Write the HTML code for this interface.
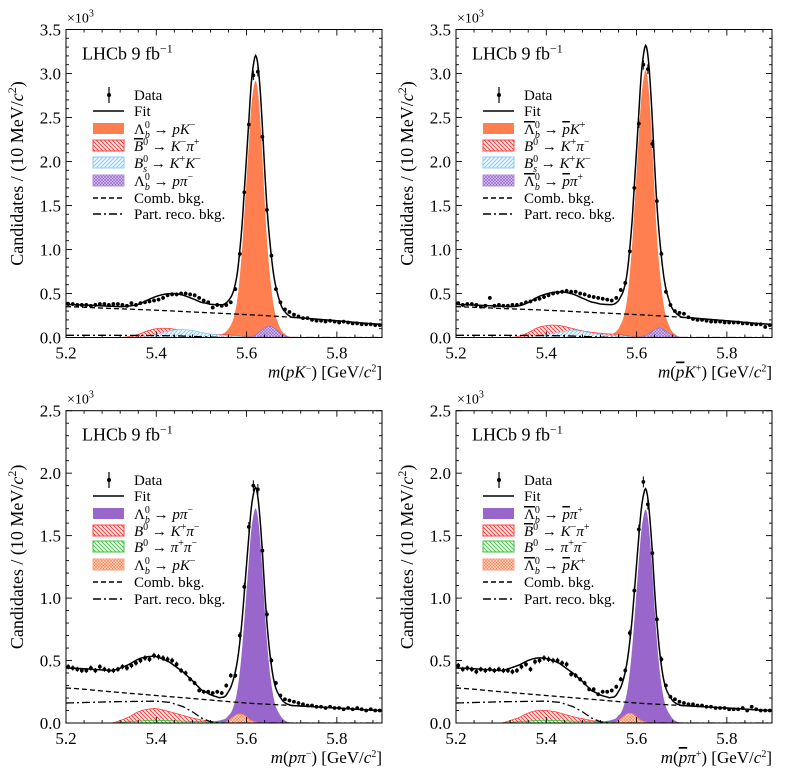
<!DOCTYPE html>
<html><head><meta charset="utf-8"><style>
html,body{margin:0;padding:0;background:#fff;}
svg{display:block;font-family:"Liberation Serif","DejaVu Serif",serif;}
</style></head><body>
<svg id="fig" width="794" height="780" viewBox="0 0 794 780" xmlns="http://www.w3.org/2000/svg">
<defs>
<pattern id="hRed" patternUnits="userSpaceOnUse" width="4" height="4"><rect width="4" height="4" fill="#ffe8e8"/><path d="M-1,-1 L5,5 M-1,3 L1,5 M3,-1 L5,1" stroke="#ff3030" stroke-width="0.9"/></pattern>
<pattern id="hBlue" patternUnits="userSpaceOnUse" width="4" height="4"><rect width="4" height="4" fill="#eef8ff"/><path d="M-1,5 L5,-1 M-1,1 L1,-1 M3,5 L5,3" stroke="#7cc8f0" stroke-width="0.9"/></pattern>
<pattern id="hGreen" patternUnits="userSpaceOnUse" width="4" height="4"><rect width="4" height="4" fill="#eaffea"/><path d="M-1,-1 L5,5 M-1,3 L1,5 M3,-1 L5,1" stroke="#40c040" stroke-width="0.9"/></pattern>
<pattern id="hPurple" patternUnits="userSpaceOnUse" width="3" height="3"><rect width="3" height="3" fill="#d8c4ee"/><path d="M0,0 L3,3 M0,3 L3,0" stroke="#9060c8" stroke-width="0.6"/></pattern>
<pattern id="hOrange" patternUnits="userSpaceOnUse" width="3" height="3"><rect width="3" height="3" fill="#ffd8c4"/><path d="M0,0 L3,3 M0,3 L3,0" stroke="#ff8050" stroke-width="0.6"/></pattern>
</defs>
</svg>
<script>
// ---------- Panel A: m(pK-) ----------
const dataA = [.38,.38,.37,.37,.37,.36,.37,.38,.38,.37, .38,.38,.37,.36,.39,.37,.39,.40,.41,.42, .43,.45,.48,.49,.49,.50,.50,.49,.48,.45, .42,.40,.34,.37,.36,.37,.40,.55,.95,1.65, 2.42,2.98,3.02,2.28,1.45,.93,.55,.40,.32,.29, .26,.24,.22,.22,.20,.19,.19,.18,.19,.18, .17,.18,.17,.16,.16,.15,.15,.15,.14,.14];
const combA = [.35,.33,.31,.285,.26,.23,.19,.15];
const partXA = [5.2,5.3,5.4,5.45,5.5,5.55];
const partYA = [.025,.025,.022,.018,.008,0];
const sigA = [0,.005,.01,.012,.015,.02,.025,.03, .035,.04,.05,.07, .10,.14,.20,.30,.45,.70,1.00,1.40,1.80,2.20,2.60,2.82,2.92, 2.80,2.50,2.06,1.56,1.12,.80,.55,.36,.24,.16,.10,.06,.04,.02,.01,0];
const redA = [0,.012,.035,.075,.10,.105,.095,.078,.06,.048,.038,.032,.03,.02,0];
const blueA = [0,.012,.035,.062,.085,.09,.08,.058,.04,.028,.02,.015,0];
const purpA = [0,.01,.03,.07,.11,.13,.11,.07,.03,.01,0];

// ---------- Panel B: m(pbar K+) ----------
const dataB = [.39,.37,.38,.38,.37,.35,.36,.45,.36,.37, .36,.36,.37,.37,.38,.40,.41,.43,.44,.46, .48,.50,.51,.52,.53,.52,.52,.50,.49,.47, .46,.45,.44,.43,.42,.45,.54,.62,.98,1.70, 2.43,3.10,3.05,2.20,1.55,.95,.52,.37,.30,.28, .27,.23,.21,.20,.20,.19,.18,.18,.18,.17, .17,.17,.17,.16,.16,.15,.15,.15,.12,.14];
const combB = [.35,.33,.31,.285,.26,.23,.19,.15];
const partXB = [5.2,5.3,5.4,5.45,5.5,5.55];
const partYB = [.025,.025,.022,.018,.008,0];
const sigB = [0,.005,.01,.012,.015,.02,.025,.03, .035,.04,.05,.07, .10,.15,.21,.31,.47,.73,1.04,1.46,1.87,2.29,2.70,2.93,3.04, 2.92,2.60,2.14,1.62,1.16,.83,.57,.37,.24,.16,.10,.06,.04,.02,.01,0];
const redB = [0,.015,.055,.11,.135,.14,.125,.10,.075,.06,.048,.04,.035,.02,0];
const blueB = [0,.01,.028,.05,.07,.08,.07,.05,.033,.022,.015,.01,0];
const purpB = [0,.01,.025,.055,.09,.11,.09,.055,.025,.01,0];

// ---------- Panel C: m(p pi-) ----------
const dataC = [.45,.44,.43,.42,.42,.44,.42,.45,.43,.42, .42,.43,.45,.44,.46,.48,.50,.52,.51,.54, .53,.52,.51,.50,.47,.42,.40,.35,.32,.26, .25,.25,.24,.25,.24,.30,.38,.38,.70,1.09, 1.57,1.90,1.87,1.38,.87,.50,.32,.22,.19,.18, .17,.16,.15,.14,.14,.13,.13,.12,.13,.12, .12,.11,.12,.11,.12,.11,.10,.11,.10,.10];
const combC = [.28,.25,.22,.19,.16,.14,.12,.10];
const partXC = [5.2,5.3,5.4,5.43,5.46,5.48,5.5,5.52,5.54];
const partYC = [.16,.17,.175,.165,.13,.09,.04,.01,0];
const sigC = [0,.003,.006,.008,.01,.012,.015,.018, .02,.025,.03,.04, .06,.08,.12,.18,.27,.41,.59,.82,1.06,1.30,1.53,1.66,1.72, 1.65,1.47,1.22,.92,.66,.46,.31,.20,.13,.09,.06,.035,.02,.01,.005,0];
const redC = [0,.02,.05,.09,.11,.115,.10,.08,.06,.04,.025,.015,0];
const greenC = [0,.01,.02,.02,.015,.01,.005,0];
const orangeC = [0,.02,.05,.07,.07,.05,.02,.01,0];

// ---------- Panel D: m(pbar pi+) ----------
const dataD = [.46,.43,.44,.43,.41,.43,.42,.43,.42,.43, .42,.42,.41,.42,.45,.47,.43,.49,.50,.52, .51,.50,.50,.48,.47,.39,.38,.35,.32,.27, .27,.23,.25,.25,.26,.29,.35,.42,.72,1.06, 1.55,1.93,1.75,1.36,.83,.51,.30,.21,.19,.17, .16,.15,.15,.14,.14,.13,.13,.12,.12,.12, .11,.11,.11,.12,.10,.13,.11,.10,.10,.10];
const combD = [.28,.25,.22,.19,.16,.14,.12,.10];
const partXD = [5.2,5.3,5.4,5.43,5.46,5.48,5.5,5.52,5.54];
const partYD = [.16,.17,.175,.165,.13,.09,.04,.01,0];
const sigD = [0,.003,.006,.008,.01,.012,.015,.018, .02,.025,.03,.04, .06,.08,.12,.18,.27,.41,.59,.82,1.06,1.30,1.52,1.65,1.71, 1.64,1.46,1.21,.91,.66,.46,.31,.20,.13,.09,.06,.035,.02,.01,.005,0];
const redD = [0,.02,.045,.08,.10,.10,.09,.07,.05,.035,.02,.012,0];
const greenD = [0,.01,.02,.02,.015,.01,.005,0];
const orangeD = [0,.02,.05,.075,.075,.05,.02,.01,0];

const xTicks = [5.2,5.4,5.6,5.8];
const yTicksTop = [0,0.5,1.0,1.5,2.0,2.5,3.0,3.5];
const yTicksBot = [0,0.5,1.0,1.5,2.0,2.5];

const NS='http://www.w3.org/2000/svg';
const svg=document.getElementById('fig');
function el(tag,attrs,parent){const e=document.createElementNS(NS,tag);for(const k in attrs)e.setAttribute(k,attrs[k]);(parent||svg).appendChild(e);return e;}

function cub(vals,x0,step,m){
  const t=(m-x0)/step; if(t<0||t>vals.length-1) return 0;
  const i=Math.min(Math.floor(t),vals.length-2), f=t-i;
  const p0=vals[Math.max(i-1,0)],p1=vals[i],p2=vals[i+1],p3=vals[Math.min(i+2,vals.length-1)];
  const v=0.5*((2*p1)+(-p0+p2)*f+(2*p0-5*p1+4*p2-p3)*f*f+(-p0+3*p1-3*p2+p3)*f*f*f);
  return Math.max(v,0);
}
function lin(xs,ys,m){
  if(m<=xs[0])return ys[0]; if(m>=xs[xs.length-1])return ys[ys.length-1];
  for(let i=0;i<xs.length-1;i++){if(m<=xs[i+1]){const f=(m-xs[i])/(xs[i+1]-xs[i]);return ys[i]+f*(ys[i+1]-ys[i]);}}
  return 0;
}

function panel(cfg){
  const g=el('g',{});
  
  
  const L=cfg.L,R=cfg.L+316,T=cfg.T,B=cfg.B;
  const X=m=>L+(m-5.2)/0.7*(R-L);
  const Y=v=>B-v/cfg.ymax*(B-T);
  const clip='clip'+cfg.id;
  const cp=el('clipPath',{id:clip},g); el('rect',{x:L,y:T,width:R-L,height:B-T},cp);
  const pg=el('g',{'clip-path':'url(#'+clip+')'},g);
  
  
  const grid=[];for(let m=5.2;m<=5.9001;m+=0.002)grid.push(m);
  function areaPath(fn){let d='M'+X(5.2)+','+Y(0);grid.forEach(m=>{d+=' L'+X(m).toFixed(2)+','+Y(fn(m)).toFixed(2);});d+=' L'+X(5.9)+','+Y(0)+'Z';return d;}
  function linePath(fn){let d='';grid.forEach((m,i)=>{d+=(i?' L':'M')+X(m).toFixed(2)+','+Y(fn(m)).toFixed(2);});return d;}
  const sigFn=m=>cub(cfg.sig,5.50,0.005,m);
  const s=el('path',{d:areaPath(sigFn),fill:cfg.sigColor,stroke:'none'},pg);
  
  
  const compFns=[sigFn];
  cfg.comps.forEach(c=>{
    const fn=m=>cub(c.vals,c.x0,c.step,m);
    compFns.push(fn);
    const p=el('path',{d:areaPath(fn),fill:'url(#'+c.pat+')',stroke:c.stroke,'stroke-width':0.8},pg);
    
    
  });
  const combFn=m=>cub(cfg.comb,5.2,0.1,m);
  const partFn=m=>lin(cfg.partX,cfg.partY,m);
  const cl=el('path',{d:linePath(combFn),fill:'none',stroke:'#000','stroke-width':1.3,'stroke-dasharray':'5,3'},pg);
  
  
  const pl=el('path',{d:linePath(partFn),fill:'none',stroke:'#000','stroke-width':1.3,'stroke-dasharray':'8,3,2,3'},pg);
  
  
  const fitFn=m=>{let v=combFn(m)+partFn(m);compFns.forEach(f=>v+=f(m));return v;};
  const fl=el('path',{d:linePath(fitFn),fill:'none',stroke:'#000','stroke-width':1.5},pg);
  
  
  cfg.data.forEach((v,i)=>{
    const m=5.205+0.01*i, e=Math.sqrt(v*1000)/1000;
    const dg=el('g',{},pg);
    
    
    el('line',{x1:X(m),x2:X(m),y1:Y(v+e),y2:Y(v-e),stroke:'#000','stroke-width':1},dg);
    el('circle',{cx:X(m),cy:Y(v),r:1.9,fill:'#000'},dg);
  });
  const fr=el('rect',{x:L,y:T,width:R-L,height:B-T,fill:'none',stroke:'#000','stroke-width':1},g);
  
  
  for(let k=0;k<=35;k+=2){const m=5.2+k*0.02;const x=X(m);const maj=(k%10===0);const len=maj?6:3;
    el('line',{x1:x,x2:x,y1:B,y2:B-len,stroke:'#000','stroke-width':0.9},g);
    el('line',{x1:x,x2:x,y1:T,y2:T+len,stroke:'#000','stroke-width':0.9},g);}
  xTicks.forEach(m=>{const t=el('text',{x:X(m),y:B+21,'font-size':17,'text-anchor':'middle'},g);t.textContent=m.toFixed(1);
    
    });
  for(let k=0;k<=cfg.ymax*10+0.01;k++){const v=k*0.1;const y=Y(v);const maj=(k%5===0);const len=maj?6:3;
    el('line',{x1:L,x2:L+len,y1:y,y2:y,stroke:'#000','stroke-width':0.9},g);
    el('line',{x1:R,x2:R-len,y1:y,y2:y,stroke:'#000','stroke-width':0.9},g);}
  cfg.yTicks.forEach(v=>{const t=el('text',{x:L-5,y:Y(v)+6,'font-size':17,'text-anchor':'end'},g);t.textContent=v.toFixed(1);
    
    });
  const mult=el('text',{x:L+1,y:T-7,'font-size':14},g);mult.innerHTML='×10<tspan font-size="10" baseline-shift="6">3</tspan>';
  
  
  const yl=el('text',{x:0,y:0,'font-size':18,'text-anchor':'middle',transform:'translate('+(L-43)+','+((T+B)/2-10)+') rotate(-90)'},g);
  yl.innerHTML='Candidates / (10 MeV/<tspan font-style="italic">c</tspan><tspan font-size="12" baseline-shift="7">2</tspan>)';
  
  
  const xl=el('text',{x:R,y:B+40,'font-size':17,'text-anchor':'end'},g);xl.innerHTML=cfg.xlabel;
  
  
  const lh=el('text',{x:L+16,y:T+30,'font-size':18},g);lh.innerHTML='LHCb 9 fb<tspan font-size="12" baseline-shift="7">−1</tspan>';
  
  
  const lg=el('g',{},g);
  
  
  const lx=L+27, tx=L+68;
  cfg.legend.forEach((it,i)=>{
    const y=cfg.legY[i];
    const eg=el('g',{},lg);
    
    
    if(it.k==='data'){el('line',{x1:lx+16,x2:lx+16,y1:y-8,y2:y+8,stroke:'#000','stroke-width':1.2},eg);el('circle',{cx:lx+16,cy:y,r:2,fill:'#000'},eg);}
    else if(it.k==='line'){el('line',{x1:lx,x2:lx+31,y1:y,y2:y,stroke:'#000','stroke-width':1.5,'stroke-dasharray':it.dash||'none'},eg);}
    else{el('rect',{x:lx,y:y-6,width:31,height:11,fill:it.fill,stroke:it.stroke||'none','stroke-width':1},eg);}
    const t=el('text',{x:tx,y:y+5,'font-size':15},eg);t.innerHTML=it.t;
  });
}
const I=s=>'<tspan font-style="italic">'+s+'</tspan>';
const SP=s=>'<tspan font-size="10" baseline-shift="6">'+s+'</tspan>';
const SUPSUB=(base,sup,sub)=>base+'<tspan font-size="10" baseline-shift="6">'+sup+'</tspan><tspan font-size="10" font-style="italic" dx="-5" baseline-shift="-4">'+sub+'</tspan>';
const LB=SUPSUB('Λ','0','b')+' → ';
const LBb=SUPSUB('<tspan text-decoration="overline">Λ</tspan>','0','b')+' → ';
const B0=I('B')+SP('0')+' → ';
const B0b='<tspan font-style="italic" text-decoration="overline">B</tspan>'+SP('0')+' → ';
const BS=SUPSUB(I('B'),'0','s')+' → ';
const pb='<tspan font-style="italic" text-decoration="overline">p</tspan>';
const legTop=[95,111,129,146,163,181,198,214];
const legBot=[390+90,390+106,390+124,390+141,390+157,390+175,390+192,390+209];
const base=[{k:'data',t:'Data'},{k:'line',t:'Fit'}];
const tail=[{k:'line',dash:'5,3',t:'Comb. bkg.'},{k:'line',dash:'8,3,2,3',t:'Part. reco. bkg.'}];
const ORG='#ff7f50', PUR='#9966cc';

panel({id:'A',name:'panel-pK',L:66,T:29.5,B:337.5,ymax:3.5,yTicks:yTicksTop,data:dataA,comb:combA,partX:partXA,partY:partYA,sig:sigA,sigColor:ORG,
 comps:[{name:'b0-kpi-component',vals:redA,x0:5.32,step:0.02,pat:'hRed',stroke:'#ff4040'},{name:'bs-kk-component',vals:blueA,x0:5.36,step:0.02,pat:'hBlue',stroke:'#8ccff5'},{name:'lb-ppi-component',vals:purpA,x0:5.60,step:0.01,pat:'hPurple',stroke:'#9a70d0'}],
 xlabel:I('m')+'('+I('pK')+SP('−')+') [GeV/'+I('c')+SP('2')+']',legY:legTop,
 legend:base.concat([{t:LB+I('pK')+SP('−'),fill:ORG},{t:B0b+I('K')+SP('−')+I('π')+SP('+'),fill:'url(#hRed)',stroke:'#ff4040'},{t:BS+I('K')+SP('+')+I('K')+SP('−'),fill:'url(#hBlue)',stroke:'#8ccff5'},{t:LB+I('pπ')+SP('−'),fill:'url(#hPurple)',stroke:'#b090e0'}],tail)});

panel({id:'B',name:'panel-pbarK',L:456,T:29.5,B:337.5,ymax:3.5,yTicks:yTicksTop,data:dataB,comb:combB,partX:partXB,partY:partYB,sig:sigB,sigColor:ORG,
 comps:[{name:'b0-kpi-component',vals:redB,x0:5.32,step:0.02,pat:'hRed',stroke:'#ff4040'},{name:'bs-kk-component',vals:blueB,x0:5.36,step:0.02,pat:'hBlue',stroke:'#8ccff5'},{name:'lbbar-ppi-component',vals:purpB,x0:5.60,step:0.01,pat:'hPurple',stroke:'#9a70d0'}],
 xlabel:I('m')+'('+pb+I('K')+SP('+')+') [GeV/'+I('c')+SP('2')+']',legY:legTop,
 legend:base.concat([{t:LBb+pb+I('K')+SP('+'),fill:ORG},{t:B0+I('K')+SP('+')+I('π')+SP('−'),fill:'url(#hRed)',stroke:'#ff4040'},{t:BS+I('K')+SP('+')+I('K')+SP('−'),fill:'url(#hBlue)',stroke:'#8ccff5'},{t:LBb+pb+I('π')+SP('+'),fill:'url(#hPurple)',stroke:'#b090e0'}],tail)});

panel({id:'C',name:'panel-ppi',L:66,T:410.7,B:723,ymax:2.5,yTicks:yTicksBot,data:dataC,comb:combC,partX:partXC,partY:partYC,sig:sigC,sigColor:PUR,
 comps:[{name:'b0-kpi-component',vals:redC,x0:5.30,step:0.02,pat:'hRed',stroke:'#ff4040'},{name:'b0-pipi-component',vals:greenC,x0:5.30,step:0.04,pat:'hGreen',stroke:'#40c040'},{name:'lb-pk-component',vals:orangeC,x0:5.55,step:0.01,pat:'hOrange',stroke:'#ff8050'}],
 xlabel:I('m')+'('+I('pπ')+SP('−')+') [GeV/'+I('c')+SP('2')+']',legY:legBot,
 legend:base.concat([{t:LB+I('pπ')+SP('−'),fill:PUR},{t:B0+I('K')+SP('+')+I('π')+SP('−'),fill:'url(#hRed)',stroke:'#ff4040'},{t:B0+I('π')+SP('+')+I('π')+SP('−'),fill:'url(#hGreen)',stroke:'#40c040'},{t:LB+I('pK')+SP('−'),fill:'url(#hOrange)',stroke:'#ffa080'}],tail)});

panel({id:'D',name:'panel-pbarpi',L:456,T:410.7,B:723,ymax:2.5,yTicks:yTicksBot,data:dataD,comb:combD,partX:partXD,partY:partYD,sig:sigD,sigColor:PUR,
 comps:[{name:'b0bar-kpi-component',vals:redD,x0:5.30,step:0.02,pat:'hRed',stroke:'#ff4040'},{name:'b0-pipi-component',vals:greenD,x0:5.30,step:0.04,pat:'hGreen',stroke:'#40c040'},{name:'lbbar-pk-component',vals:orangeD,x0:5.55,step:0.01,pat:'hOrange',stroke:'#ff8050'}],
 xlabel:I('m')+'('+pb+I('π')+SP('+')+') [GeV/'+I('c')+SP('2')+']',legY:legBot,
 legend:base.concat([{t:LBb+pb+I('π')+SP('+'),fill:PUR},{t:B0b+I('K')+SP('−')+I('π')+SP('+'),fill:'url(#hRed)',stroke:'#ff4040'},{t:B0+I('π')+SP('+')+I('π')+SP('−'),fill:'url(#hGreen)',stroke:'#40c040'},{t:LBb+pb+I('K')+SP('+'),fill:'url(#hOrange)',stroke:'#ffa080'}],tail)});
</script>
</body></html>
